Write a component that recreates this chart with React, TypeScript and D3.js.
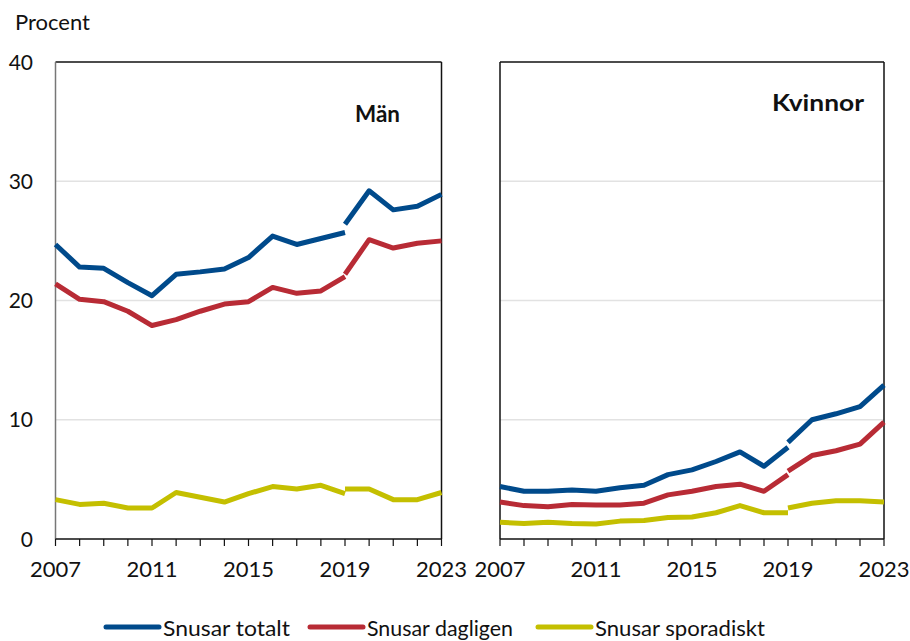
import React from "react";
import * as d3 from "d3";

// Years for the old method series (2007–2019) and new method series (2019–2023)
const yearsOld = [2007, 2008, 2009, 2010, 2011, 2012, 2013, 2014, 2015, 2016, 2017, 2018, 2019];
const yearsNew = [2019, 2020, 2021, 2022, 2023];

// Män
const menTotalOld = [24.7, 22.8, 22.7, 21.5, 20.4, 22.2, 22.4, 22.65, 23.6, 25.4, 24.7, 25.2, 25.7];
const menTotalNew = [26.4, 29.2, 27.6, 27.9, 28.9];
const menDailyOld = [21.4, 20.1, 19.9, 19.1, 17.9, 18.4, 19.1, 19.7, 19.9, 21.1, 20.6, 20.8, 22.0];
const menDailyNew = [22.2, 25.1, 24.4, 24.8, 25.0];
const menSporOld = [3.3, 2.9, 3.0, 2.6, 2.6, 3.9, 3.5, 3.1, 3.8, 4.4, 4.2, 4.5, 3.8];
const menSporNew = [4.2, 4.2, 3.3, 3.3, 3.9];

// Kvinnor
const womenTotalOld = [4.4, 4.0, 4.0, 4.1, 4.0, 4.3, 4.5, 5.4, 5.8, 6.5, 7.3, 6.1, 7.7];
const womenTotalNew = [8.1, 10.0, 10.5, 11.1, 12.9];
const womenDailyOld = [3.1, 2.8, 2.7, 2.9, 2.85, 2.85, 3.0, 3.7, 4.0, 4.4, 4.6, 4.0, 5.4];
const womenDailyNew = [5.7, 7.0, 7.4, 7.95, 9.8];
const womenSporOld = [1.4, 1.3, 1.4, 1.3, 1.25, 1.5, 1.55, 1.8, 1.85, 2.2, 2.8, 2.2, 2.2];
const womenSporNew = [2.6, 3.0, 3.2, 3.2, 3.1];

const seriesNames = ["Snusar totalt", "Snusar dagligen", "Snusar sporadiskt"];
const seriesColors = ["#004a8b", "#b82b35", "#c4bf00"];
const panelTitles = ["Män", "Kvinnor"];
const yTicks = [0, 10, 20, 30, 40];
const xLabelYears = [2007, 2011, 2015, 2019, 2023];
const allYears = d3.range(2007, 2024);

const FONT = "Lato, 'Open Sans', sans-serif";

type Panel = {
  title: string;
  x0: number;
  x1: number;
  titleX: number;
  titleY: number;
  titleW: number;
  showY: boolean;
  old: number[][];
  neu: number[][];
};

const panels: Panel[] = [
  {
    title: panelTitles[0], x0: 55.5, x1: 441.5, titleX: 355, titleY: 122, titleW: 45, showY: true,
    old: [menTotalOld, menDailyOld, menSporOld],
    neu: [menTotalNew, menDailyNew, menSporNew],
  },
  {
    title: panelTitles[1], x0: 500, x1: 884, titleX: 772, titleY: 111, titleW: 92, showY: false,
    old: [womenTotalOld, womenDailyOld, womenSporOld],
    neu: [womenTotalNew, womenDailyNew, womenSporNew],
  },
];

const legendX = [104, 308, 536];
const legendTextW = [127, 146, 170];

const y = d3.scaleLinear().domain([0, 40]).range([539, 62]);

export default function App() {
  return (
    <svg width={910} height={641} style={{ position: "absolute", left: 0, top: 0 }} fontFamily={FONT}>
      <rect width={910} height={641} fill="#fff" />
      <text x={15} y={30} fontSize={22} fill="#111">Procent</text>
      {panels.map((p, pi) => {
        const x = d3.scaleLinear().domain([2007, 2023]).range([p.x0, p.x1]);
        const line = d3.line<[number, number]>().x(d => x(d[0])).y(d => y(d[1]));
        return (
          <g key={pi}>
            {yTicks.filter(t => t > 0 && t < 40).map(t => (
              <line key={t} x1={p.x0} x2={p.x1} y1={y(t)} y2={y(t)} stroke="#e2e2e2" strokeWidth={1.5} />
            ))}
            {/* frame */}
            <line x1={p.x0} x2={p.x1} y1={y(40)} y2={y(40)} stroke="#111" strokeWidth={1.5} />
            <line x1={p.x1} x2={p.x1} y1={y(40)} y2={y(0)} stroke="#111" strokeWidth={1.5} />
            <line x1={p.x0} x2={p.x0} y1={y(40)} y2={y(0)} stroke={p.showY ? "#777" : "#111"} strokeWidth={1.5} />
            <line x1={p.x0} x2={p.x1} y1={y(0)} y2={y(0)} stroke="#111" strokeWidth={1.5} />
            {allYears.map(yr => (
              <line key={yr} x1={x(yr)} x2={x(yr)} y1={y(0)} y2={y(0) + 7} stroke="#111" strokeWidth={1.2} />
            ))}
            {xLabelYears.map(yr => (
              <text key={yr} x={x(yr)} y={577} fontSize={22} textAnchor="middle" fill="#111">{yr}</text>
            ))}
            {p.showY && yTicks.map(t => (
              <text key={t} x={33} y={y(t) + 7.5} fontSize={21} textAnchor="end" fill="#111">{t}</text>
            ))}
            {p.old.map((vals, si) => (
              <path key={"o" + si} d={line(yearsOld.map((yr, i) => [yr, vals[i]]) as [number, number][]) || ""}
                fill="none" stroke={seriesColors[si]} strokeWidth={5} strokeLinejoin="round" />
            ))}
            {p.neu.map((vals, si) => (
              <path key={"n" + si} d={line(yearsNew.map((yr, i) => [yr, vals[i]]) as [number, number][]) || ""}
                fill="none" stroke={seriesColors[si]} strokeWidth={5} strokeLinejoin="round" />
            ))}
            <text x={p.titleX} y={p.titleY} fontSize={22} fontWeight="bold" fill="#111"
              textLength={p.titleW} lengthAdjust="spacingAndGlyphs">{p.title}</text>
          </g>
        );
      })}
      {seriesNames.map((name, i) => {
        const lx = legendX[i];
        return (
          <g key={name}>
            <line x1={lx + 2} x2={lx + 55} y1={627} y2={627} stroke={seriesColors[i]} strokeWidth={5} strokeLinecap="round" />
            <text x={lx + 59} y={636} fontSize={22} fill="#111"
              textLength={legendTextW[i]} lengthAdjust="spacingAndGlyphs">{name}</text>
          </g>
        );
      })}
    </svg>
  );
}
